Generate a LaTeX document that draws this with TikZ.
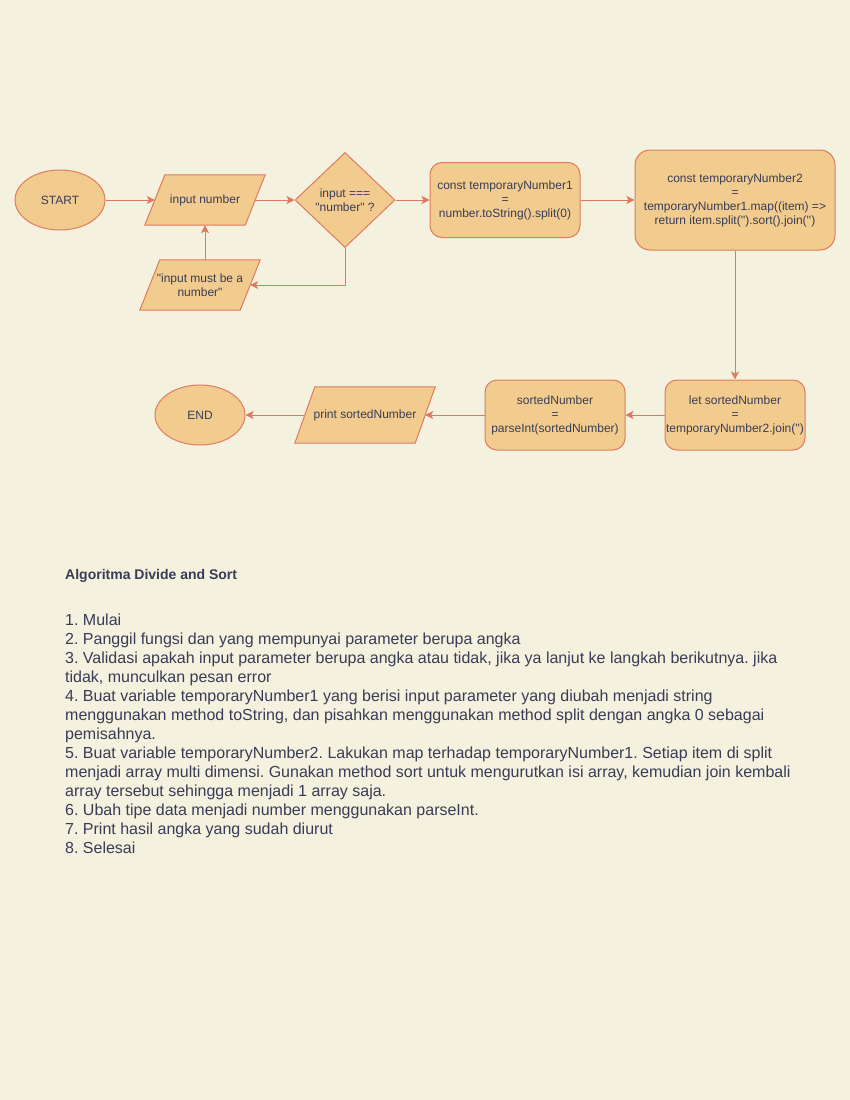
\documentclass[tikz,border=0pt]{standalone}
\usepackage{fontspec}
\setmainfont{Liberation Sans}[Ligatures=TeXOff]
\usetikzlibrary{shapes.geometric,arrows.meta,backgrounds}
\definecolor{bgc}{HTML}{F4F1DE}
\definecolor{fillc}{HTML}{F2CC8F}
\definecolor{strokec}{HTML}{E07A5F}
\definecolor{txtc}{HTML}{393C56}
\frenchspacing
\begin{document}
\begin{tikzpicture}[x=1pt,y=-1pt,
  base/.style={draw=strokec, fill=fillc, text=txtc, line width=1pt, font=\fontsize{12}{14}\selectfont, align=center, inner sep=0pt},
  term/.style={base, ellipse, minimum width=90pt, minimum height=60pt},
  iobox/.style={text=txtc, font=\fontsize{12}{14}\selectfont, align=center, inner sep=0pt, rectangle},
  ioshape/.style={draw=strokec, fill=fillc, line width=1pt, line join=miter},
  proc/.style={base, rectangle, rounded corners=12pt},
  dec/.style={base, diamond, minimum width=100pt, minimum height=95pt},
  flow/.style={draw=strokec, line width=1pt, -{Stealth[length=8pt,width=8pt,inset=2pt]}}
]
\node[term] (start) at (60,200) {START};
\node[iobox, minimum width=120pt, minimum height=50pt] (in) at (205,200) {input number};
\node[dec] (dec) at (345,200) {input ===\\"number" ?};
\node[proc, minimum width=150pt, minimum height=75pt] (tn1) at (505,200) {const temporaryNumber1\\=\\number.toString().split(0)};
\node[proc, rounded corners=15pt, minimum width=200pt, minimum height=100pt] (tn2) at (735,200) {const temporaryNumber2\\=\\temporaryNumber1.map((item) =>\\return item.split('').sort().join('')};
\node[iobox, minimum width=120pt, minimum height=50pt] (err) at (200,285) {"input must be a\\number"};
\node[term] (end) at (200,415) {END};
\node[iobox, minimum width=140pt, minimum height=56pt] (print) at (365,415) {print sortedNumber};
\node[proc, minimum width=140pt, minimum height=70pt] (sorted) at (555,415) {sortedNumber\\=\\parseInt(sortedNumber)};
\node[proc, minimum width=140pt, minimum height=70pt] (let) at (735,415) {let sortedNumber\\=\\temporaryNumber2.join('')};
\begin{pgfonlayer}{background}
\fill[bgc] (0,0) rectangle (850,1100);
\draw[ioshape] ([xshift=20pt]in.north west) -- (in.north east) -- ([xshift=-20pt]in.south east) -- (in.south west) -- cycle;
\draw[ioshape] ([xshift=20pt]err.north west) -- (err.north east) -- ([xshift=-20pt]err.south east) -- (err.south west) -- cycle;
\draw[ioshape] ([xshift=20pt]print.north west) -- (print.north east) -- ([xshift=-20pt]print.south east) -- (print.south west) -- cycle;
\end{pgfonlayer}
\draw[flow] (start) -- ([xshift=10pt]in.west);
\draw[flow] ([xshift=-10pt]in.east) -- (dec);
\draw[flow] (dec) -- (tn1);
\draw[flow] (tn1) -- (tn2);
\draw[flow] (dec.south) |- ([xshift=-10pt]err.east);
\draw[flow] (err.north -| in.south) -- (in.south);
\draw[flow] (tn2) -- (let);
\draw[flow] (let) -- (sorted);
\draw[flow] (sorted) -- ([xshift=-10pt]print.east);
\draw[flow] ([xshift=10pt]print.west) -- (end);
\node[anchor=west, inner sep=0pt, text=txtc, font=\bfseries\fontsize{14}{16}\selectfont] (title) at (65,576) {Algoritma Divide and Sort};
\node[anchor=north west, inner sep=0pt, align=left, text=txtc, font=\fontsize{16}{19}\selectfont] (body) at (65,613.5) {1. Mulai\\
2. Panggil fungsi dan yang mempunyai parameter berupa angka\\
3. Validasi apakah input parameter berupa angka atau tidak, jika ya lanjut ke langkah berikutnya. jika\\
tidak, munculkan pesan error\\
4. Buat variable temporaryNumber1 yang berisi input parameter yang diubah menjadi string\\
menggunakan method toString, dan pisahkan menggunakan method split dengan angka 0 sebagai\\
pemisahnya.\\
5. Buat variable temporaryNumber2. Lakukan map terhadap temporaryNumber1. Setiap item di split\\
menjadi array multi dimensi. Gunakan method sort untuk mengurutkan isi array, kemudian join kembali\\
array tersebut sehingga menjadi 1 array saja.\\
6. Ubah tipe data menjadi number menggunakan parseInt.\\
7. Print hasil angka yang sudah diurut\\
8. Selesai};
\end{tikzpicture}
\end{document}
